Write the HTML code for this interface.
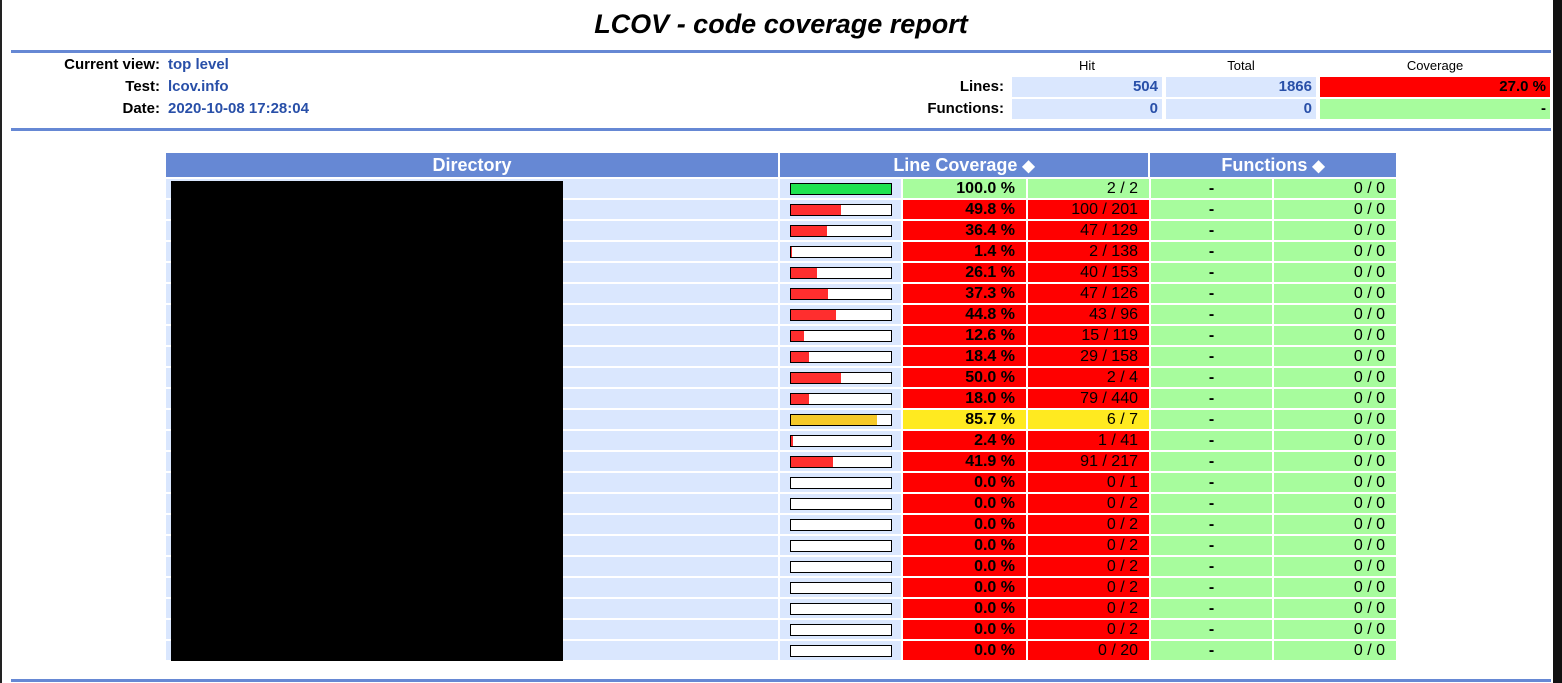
<!DOCTYPE html>
<html><head><meta charset="utf-8"><style>
html,body{margin:0;padding:0;background:#fff;}
body{width:1562px;height:683px;position:relative;overflow:hidden;font-family:"Liberation Sans",sans-serif;}
.abs{position:absolute;}
.hr{position:absolute;left:11px;width:1540px;height:3px;background:#6688d4;}
.lbl{position:absolute;right:1402px;font-weight:bold;font-size:15px;color:#000;}
.val{position:absolute;left:168px;font-weight:bold;font-size:15px;color:#284fa8;}
.sum{position:absolute;height:20px;line-height:20px;font-size:15px;font-weight:bold;text-align:right;box-sizing:border-box;padding-right:4px;}
.th{position:absolute;top:153px;height:24px;line-height:24px;background:#6688d4;color:#fff;font-weight:bold;font-size:18px;text-align:center;}
.cell{position:absolute;height:19px;line-height:19px;font-size:16px;box-sizing:border-box;padding-right:11px;text-align:right;}
</style></head><body>
<div class="abs" style="left:0;top:0;width:2px;height:683px;background:#222"></div>
<div class="abs" style="left:1553px;top:0;width:9px;height:683px;background:#111"></div>
<div class="abs" style="left:0;width:1562px;top:9px;text-align:center;font-size:27px;font-weight:bold;font-style:italic">LCOV - code coverage report</div>
<div class="hr" style="top:50px"></div>
<div class="hr" style="top:128px"></div>
<div class="hr" style="top:679px"></div>
<div class="lbl" style="top:56px">Current view:</div>
<div class="val" style="top:56px">top level</div>
<div class="lbl" style="top:78px">Test:</div>
<div class="val" style="top:78px">lcov.info</div>
<div class="lbl" style="top:100px">Date:</div>
<div class="val" style="top:100px">2020-10-08 17:28:04</div>
<div class="abs" style="left:1012px;width:150px;top:58px;text-align:center;font-size:13px">Hit</div>
<div class="abs" style="left:1166px;width:150px;top:58px;text-align:center;font-size:13px">Total</div>
<div class="abs" style="left:1320px;width:230px;top:58px;text-align:center;font-size:13px">Coverage</div>
<div class="abs" style="right:558px;top:78px;font-size:15px;font-weight:bold">Lines:</div>
<div class="abs" style="right:558px;top:100px;font-size:15px;font-weight:bold">Functions:</div>
<div class="sum" style="left:1012px;top:77px;width:150px;background:#dae7fe;color:#284fa8">504</div>
<div class="sum" style="left:1166px;top:77px;width:150px;background:#dae7fe;color:#284fa8">1866</div>
<div class="sum" style="left:1320px;top:77px;width:230px;background:#ff0000">27.0 %</div>
<div class="sum" style="left:1012px;top:99px;width:150px;background:#dae7fe;color:#284fa8">0</div>
<div class="sum" style="left:1166px;top:99px;width:150px;background:#dae7fe;color:#284fa8">0</div>
<div class="sum" style="left:1320px;top:99px;width:230px;background:#a7fc9d">-</div>
<div class="th" style="left:166px;width:612px">Directory</div>
<div class="th" style="left:780px;width:368px">Line Coverage <span style="font-size:16px">&#9670;</span></div>
<div class="th" style="left:1150px;width:246px">Functions <span style="font-size:16px">&#9670;</span></div>
<div id="rows"></div>
<div class="abs" style="left:171px;top:181px;width:392px;height:480px;background:#000"></div>
<script>
const hits=[2,100,47,2,40,47,43,15,29,2,79,6,1,91,0,0,0,0,0,0,0,0,0];
const totals=[2,201,129,138,153,126,96,119,158,4,440,7,41,217,1,2,2,2,2,2,2,2,20];
const pcts=["100.0","49.8","36.4","1.4","26.1","37.3","44.8","12.6","18.4","50.0","18.0","85.7","2.4","41.9","0.0","0.0","0.0","0.0","0.0","0.0","0.0","0.0","0.0"];
const rows=document.getElementById('rows');
function mk(style,text){const d=document.createElement('div');d.className='cell';d.style.cssText=style;if(text!==undefined)d.textContent=text;rows.appendChild(d);return d;}
pcts.forEach((p,i)=>{
  const y=179+i*21;const v=parseFloat(p);
  const bg=v>=90?'#a7fc9d':(v>=75?'#ffea20':'#ff0000');
  const bc=v>=90?'#1ee34f':(v>=75?'#f5c92a':'#ff2e2e');
  const a=mk(`left:166px;top:${y}px;width:612px;background:#dae7fe`);
  
  
  const b=mk(`left:780px;top:${y}px;width:121px;background:#dae7fe`);
  
  
  const bar=document.createElement('div');
  bar.style.cssText=`position:absolute;left:10px;top:4px;width:100px;height:10px;border:1px solid #000;background:#fff`;
  const fill=document.createElement('div');
  fill.style.cssText=`width:${v}px;height:10px;background:${bc}`;
  
  
  bar.appendChild(fill);b.appendChild(bar);
  const c=mk(`left:903px;top:${y}px;width:123px;background:${bg};font-weight:bold`,p+' %');
  
  
  const d=mk(`left:1028px;top:${y}px;width:121px;background:${bg}`,hits[i]+' / '+totals[i]);
  
  
  const e=mk(`left:1151px;top:${y}px;width:121px;background:#a7fc9d;font-weight:bold;text-align:center;padding:0`,'-');
  
  
  const f=mk(`left:1274px;top:${y}px;width:122px;background:#a7fc9d`,'0 / 0');
  
  
});
</script>
</body></html>
